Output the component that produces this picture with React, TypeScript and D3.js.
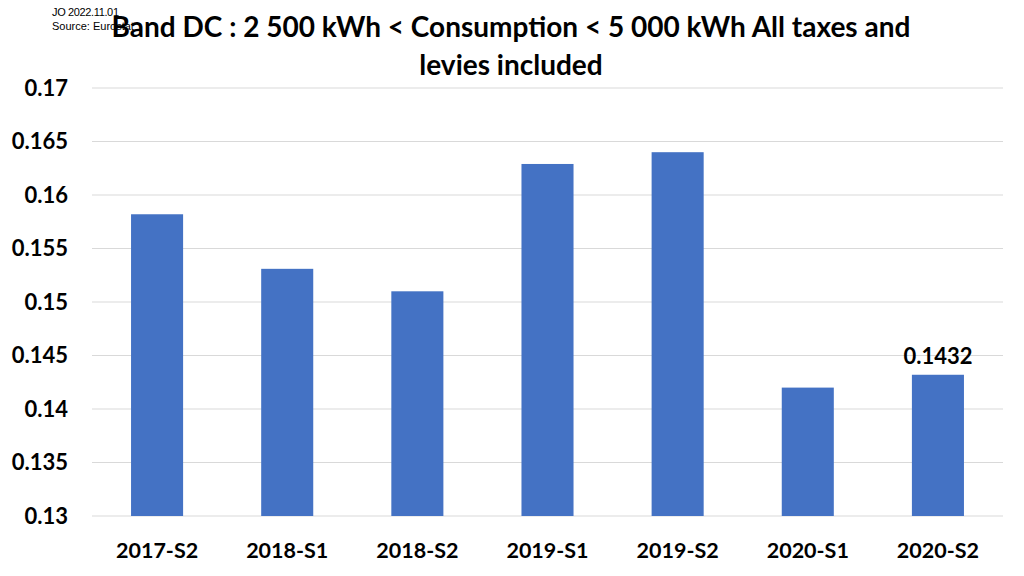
import React from "react";
import * as d3 from "d3";

const categories = ["2017-S2", "2018-S1", "2018-S2", "2019-S1", "2019-S2", "2020-S1", "2020-S2"];
const values = [0.1582, 0.1531, 0.151, 0.1629, 0.164, 0.142, 0.1432];
const yTicks = [0.13, 0.135, 0.14, 0.145, 0.15, 0.155, 0.16, 0.165, 0.17];
const labelledIndex = [6];
const titleLines = ["Band DC : 2 500 kWh < Consumption < 5 000 kWh All taxes and", "levies included"];
const noteLines = ["JO 2022.11.01", "Source: Eurostat"];

const W = 1024;
const H = 576;
const margin = { left: 92, right: 21, top: 88, bottom: 60 };
const FONT = "Lato, 'Open Sans', sans-serif";

export default function App() {
  const x = d3
    .scaleBand<string>()
    .domain(categories)
    .range([margin.left, W - margin.right])
    .paddingInner(0.6)
    .paddingOuter(0.3);
  const y = d3.scaleLinear().domain([0.13, 0.17]).range([H - margin.bottom, margin.top]);

  return (
    <svg width={W} height={H} style={{ position: "absolute", left: 0, top: 0, background: "#fff" }} fontFamily={FONT}>
      {noteLines.map((t, i) => (
        <text key={t} x={52} y={16 + i * 14} fontSize={11} fill="#000" fontFamily="'Liberation Sans', Arial, sans-serif" textLength={i === 0 ? 67 : undefined}>
          {t}
        </text>
      ))}
      {yTicks.map((t) => (
        <g key={t}>
          <line x1={margin.left} x2={W - margin.right} y1={y(t)} y2={y(t)} stroke="#d9d9d9" strokeWidth={1} />
          <text x={68} y={y(t)} dy="0.35em" textAnchor="end" fontSize={22} fontWeight="bold" fill="#000">
            {d3.format("")(t)}
          </text>
        </g>
      ))}
      {categories.map((c, i) => (
        <g key={c}>
          <rect x={x(c)!} width={x.bandwidth()} y={y(values[i])} height={y(0.13) - y(values[i])} fill="#4472C4" />
          <text x={x(c)! + x.bandwidth() / 2} y={558} textAnchor="middle" fontSize={21.5} fontWeight="bold" fill="#000">
            {c}
          </text>
          {labelledIndex.includes(i) && (
            <text x={x(c)! + x.bandwidth() / 2} y={y(values[i]) - 11} textAnchor="middle" fontSize={22} fontWeight="bold" fill="#000">
              {values[i].toFixed(4)}
            </text>
          )}
        </g>
      ))}
      {titleLines.map((t, i) => (
        <text key={t} x={511} y={37 + i * 38} textAnchor="middle" fontSize={28} fontWeight="bold" fill="#000">
          {t}
        </text>
      ))}
    </svg>
  );
}
